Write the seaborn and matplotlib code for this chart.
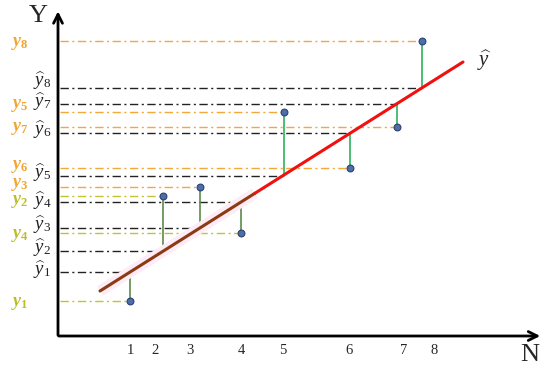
import matplotlib
matplotlib.use("Agg")
import matplotlib.pyplot as plt
import seaborn as sns
import numpy as np

# observed points (position along N, value) and fitted values
x_obs = [1.44, 2.10, 2.84, 3.66, 4.52, 5.84, 6.78, 7.28]
y_obs = [0.70, 2.80, 2.98, 2.06, 4.48, 3.36, 4.18, 5.90]
y_hat = [1.28, 1.70, 2.17, 2.68, 3.21, 4.06, 4.65, 4.96]

# regression line end points
line_x = [0.84, 8.10]
line_y = [0.90, 5.48]

# N tick labels and where they sit
tick_labels = ['1', '2', '3', '4', '5', '6', '7', '8']
tick_pos = [1.44, 1.94, 2.64, 3.66, 4.50, 5.82, 6.92, 7.52]

sns.set_theme(style='white')
plt.rcParams['font.family'] = ['Liberation Serif', 'DejaVu Serif']
plt.rcParams['mathtext.fontset'] = 'custom'
plt.rcParams['mathtext.rm'] = 'Liberation Serif'
plt.rcParams['mathtext.it'] = 'Liberation Serif:italic'
plt.rcParams['mathtext.bf'] = 'Liberation Serif:italic:bold'
plt.rcParams['mathtext.sf'] = 'Liberation Serif:bold'

fig = plt.figure(figsize=(5.5, 3.71), dpi=100)
ax = fig.add_axes([0, 0, 1, 1])

orange = '#F5A83A'
olive = '#C2C232'
y_colors = [olive, olive, orange, olive, orange, orange, orange, orange]
label_colors = ['#BDBD2A', '#BDBD2A', '#F2A530', '#BDBD2A', '#F2A530', '#F2A530', '#F2A530', '#F2A530']

# dash-dot guides for observed and fitted values
for i in range(len(x_obs)):
    ax.plot([0.04, x_obs[i]], [y_obs[i], y_obs[i]], ls=(0, (6, 2.5, 1.5, 2.5)), lw=1.0,
            color=y_colors[i], zorder=1)
    ax.plot([0.04, x_obs[i]], [y_hat[i], y_hat[i]], ls=(0, (6, 2.5, 1.5, 2.5)), lw=1.0,
            color='#222222', zorder=1)

# residuals
for i in range(len(x_obs)):
    col = '#5E8A48' if x_obs[i] < 4 else '#2DB35A'
    ax.plot([x_obs[i], x_obs[i]], [y_obs[i], y_hat[i]], color=col, lw=1.2, zorder=2)

# regression line: brown lower part, red upper part
split = 3.94
split_y = line_y[0] + (line_y[1] - line_y[0]) * (split - line_x[0]) / (line_x[1] - line_x[0])
ax.plot([line_x[0], split], [line_y[0], split_y], color='#FDEBF6', lw=8, zorder=2,
        solid_capstyle='butt')
sns.lineplot(x=[line_x[0], split], y=[line_y[0], split_y], color='#8B3A12', lw=2.2,
             ax=ax, zorder=3)
sns.lineplot(x=[split, line_x[1]], y=[split_y, line_y[1]], color='#F01010', lw=2.2,
             ax=ax, zorder=3)

sns.scatterplot(x=x_obs, y=y_obs, color='#4E6EA8', edgecolor='#2B3F73', s=24,
                linewidth=0.8, ax=ax, zorder=5)

# axes with arrows
ax.annotate('', xy=(0, 6.55), xytext=(0, -0.04),
            arrowprops=dict(arrowstyle='->', lw=2, color='black',
                            mutation_scale=16))
ax.annotate('', xy=(9.70, 0), xytext=(-0.04, 0),
            arrowprops=dict(arrowstyle='->', lw=2, color='black',
                            mutation_scale=16))

ax.text(-0.40, 6.40, 'Y', fontsize=19, ha='center', va='center')
ax.text(9.44, -0.38, 'N', fontsize=19, ha='center', va='center')
ax.text(8.52, 5.50, r'$\widehat{y}$', fontsize=15, ha='center', va='center')

for p, t in zip(tick_pos, tick_labels):
    ax.text(p, -0.28, t, fontsize=10.5, ha='center', va='center')

# left labels: observed (coloured, bold) and fitted (black, hat)
y_label_shift = [-0.04, -0.10, 0.05, -0.06, 0.14, 0.04, -0.02, -0.04]
for i in range(len(y_obs)):
    ax.text(-0.76, y_obs[i] + y_label_shift[i], r'$\mathbf{y}_{\mathsf{%d}}$' % (i + 1),
            fontsize=13, color=label_colors[i], ha='center', va='center')
hat_shift = [0.02, 0.04, 0.02, 0, 0.02, 0.04, 0, 0.12]
for i in range(len(y_hat)):
    ax.text(-0.32, y_hat[i] + hat_shift[i] + 0.03, r'$\widehat{y}_{%d}$' % (i + 1),
            fontsize=13.5, color='#222222', ha='center', va='center')

ax.set_xlim(-1.16, 9.84)
ax.set_ylim(-0.70, 6.72)
ax.set_axis_off()

fig.savefig('out.png', dpi=100)
